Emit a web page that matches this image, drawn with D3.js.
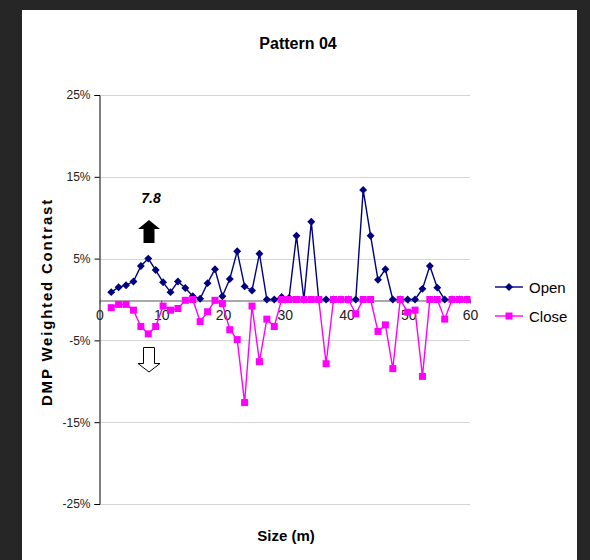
<!DOCTYPE html>
<html>
<head>
<meta charset="utf-8">
<script src="https://cdn.jsdelivr.net/npm/d3@7"></script>
<style>
  html, body { margin: 0; padding: 0; background: #262626; }
  #chart { width: 590px; height: 560px; }
  text { font-family: "Liberation Sans", Arial, sans-serif; }
</style>
</head>
<body>
<div id="chart"></div>
<script>
// ---- data ----
const sizes = [1.9, 3.1, 4.3, 5.5, 6.7, 7.9, 9.1, 10.3, 11.5, 12.7, 13.9, 15.1, 16.3, 17.5, 18.7, 19.9,
  21.1, 22.3, 23.5, 24.7, 25.9, 27.1, 28.3, 29.5, 30.7, 31.9, 33.1, 34.3, 35.5, 36.7, 37.9, 39.1,
  40.3, 41.5, 42.7, 43.9, 45.1, 46.3, 47.5, 48.7, 49.9, 51.1, 52.3, 53.5, 54.7, 55.9, 57.1, 58.3, 59.5];

const openValues = [0.9, 1.5, 1.75, 2.2, 4.1, 5.0, 3.6, 2.1, 0.9, 2.2, 1.4, 0.4, 0.1, 2.0, 3.7, 0.4,
  2.5, 5.9, 1.6, 1.1, 5.6, 0, 0, 0.3, 0.2, 7.8, 0, 9.5, 0, 0, 0, 0,
  0, 0, 13.4, 7.8, 2.4, 3.7, 0, 0, 0, 0, 1.3, 4.1, 1.45, 0, 0, 0, 0];

const closeValues = [-1.0, -0.6, -0.6, -1.3, -3.3, -4.2, -3.3, -0.8, -1.3, -1.1, -0.1, 0, -2.7, -1.5, -0.1, -0.5,
  -3.7, -4.9, -12.6, -0.8, -7.6, -2.4, -3.3, 0, 0, 0, 0, 0, 0, -7.85, 0, 0,
  0, -1.75, 0, 0, -3.9, -3.1, -8.45, 0, -1.55, -1.3, -9.4, 0, 0, -2.4, 0, 0, 0];

const yTicks = [-25, -15, -5, 5, 15, 25];
const xTicks = [0, 10, 20, 30, 40, 50, 60];
const seriesNames = ["Open", "Close"];
const annotationValue = "7.8";

const W = 590, H = 560;

const svg = d3.select("#chart")
  .append("svg")
  .attr("width", W)
  .attr("height", H);

// white panel
svg.append("rect")
  .attr("x", 22).attr("y", 10)
  .attr("width", 555).attr("height", 560)
  .attr("fill", "#fff");

const x = d3.scaleLinear().domain([0, 60]).range([99.5, 470]);
const y = d3.scaleLinear().domain([-25, 25]).range([504, 95]);

// gridlines
svg.append("g")
  .selectAll("line")
  .data(yTicks)
  .enter().append("line")
  .attr("x1", x(0)).attr("x2", x(60))
  .attr("y1", d => Math.round(y(d)) + 0.5)
  .attr("y2", d => Math.round(y(d)) + 0.5)
  .attr("stroke", "#d4d4d4")
  .attr("stroke-width", 1);

// y axis
const yAxis = svg.append("g")
  .attr("transform", `translate(${x(0)},0)`)
  .call(d3.axisLeft(y).tickValues(yTicks).tickSize(5).tickPadding(4).tickFormat(d => d + "%"));
yAxis.select(".domain").attr("stroke", "#000");
yAxis.selectAll(".tick line").attr("stroke", "#000");
yAxis.selectAll("text")
  .attr("font-size", 12)
  .attr("fill", "#222")
  .style("font-family", "'Liberation Sans', Arial, sans-serif");

// x axis along zero
const xAxis = svg.append("g")
  .attr("transform", `translate(0,${Math.round(y(0)) + 0.5})`)
  .call(d3.axisBottom(x).tickValues(xTicks).tickSize(3).tickPadding(7).tickSizeOuter(0));
xAxis.select(".domain").attr("stroke", "#555").attr("stroke-width", 1.2);
xAxis.selectAll(".tick line").attr("stroke", "#555");
xAxis.selectAll("text")
  .attr("font-size", 14)
  .attr("fill", "#222")
  .style("font-family", "'Liberation Sans', Arial, sans-serif");

// series
const openPts = sizes.map((s, i) => ({ s, v: openValues[i] }));
const closePts = sizes.map((s, i) => ({ s, v: closeValues[i] }));

const line = d3.line().x(d => x(d.s)).y(d => y(d.v));

svg.append("path")
  .datum(openPts)
  .attr("d", line)
  .attr("fill", "none")
  .attr("stroke", "#000080")
  .attr("stroke-width", 1.4);

const diamond = d3.symbol().type(d3.symbolDiamond2).size(40);

svg.append("g")
  .selectAll("path")
  .data(openPts)
  .enter().append("path")
  .attr("d", diamond)
  .attr("transform", d => `translate(${x(d.s)},${y(d.v)})`)
  .attr("fill", "#000080");

svg.append("path")
  .datum(closePts)
  .attr("d", line)
  .attr("fill", "none")
  .attr("stroke", "#ff00ff")
  .attr("stroke-width", 1.4);

svg.append("g")
  .selectAll("rect")
  .data(closePts)
  .enter().append("rect")
  .attr("x", d => x(d.s) - 3.5)
  .attr("y", d => y(d.v) - 3.5)
  .attr("width", 7).attr("height", 7)
  .attr("fill", "#ff00ff");

// annotation: 7.8 with arrows
svg.append("text")
  .attr("x", 151).attr("y", 203)
  .attr("text-anchor", "middle")
  .attr("font-size", 14)
  .attr("font-weight", "bold")
  .attr("font-style", "italic")
  .text(annotationValue);

svg.append("path")
  .attr("d", "M149,220 L160,229 L154.5,229 L154.5,243 L143.5,243 L143.5,229 L138,229 Z")
  .attr("fill", "#000");

svg.append("path")
  .attr("d", "M143.5,347.5 L154.5,347.5 L154.5,363.5 L160,363.5 L149,372 L138,363.5 L143.5,363.5 Z")
  .attr("fill", "#fff")
  .attr("stroke", "#000")
  .attr("stroke-width", 1);

// title and axis titles
svg.append("text")
  .attr("x", 298).attr("y", 49)
  .attr("text-anchor", "middle")
  .attr("font-size", 16)
  .attr("font-weight", "bold")
  .text("Pattern 04");

svg.append("text")
  .attr("x", 286).attr("y", 541)
  .attr("text-anchor", "middle")
  .attr("font-size", 15)
  .attr("font-weight", "bold")
  .text("Size (m)");

svg.append("text")
  .attr("transform", "translate(52,302) rotate(-90)")
  .attr("text-anchor", "middle")
  .attr("font-size", 15)
  .attr("font-weight", "bold")
  .attr("letter-spacing", 1.8)
  .text("DMP Weighted Contrast");

// legend
const legend = svg.append("g");
const legendY = [287, 316];
seriesNames.forEach((name, i) => {
  const g = legend.append("g").attr("transform", `translate(495,${legendY[i]})`);
  g.append("line")
    .attr("x1", 0).attr("x2", 28)
    .attr("stroke", i === 0 ? "#000080" : "#ff00ff")
    .attr("stroke-width", 1.4);
  if (i === 0) {
    g.append("path").attr("d", diamond).attr("transform", "translate(14,0)").attr("fill", "#000080");
  } else {
    g.append("rect").attr("x", 10.5).attr("y", -3.5).attr("width", 7).attr("height", 7).attr("fill", "#ff00ff");
  }
  g.append("text")
    .attr("x", 34).attr("y", 5.5)
    .attr("font-size", 15)
    .text(name);
});
</script>
</body>
</html>
